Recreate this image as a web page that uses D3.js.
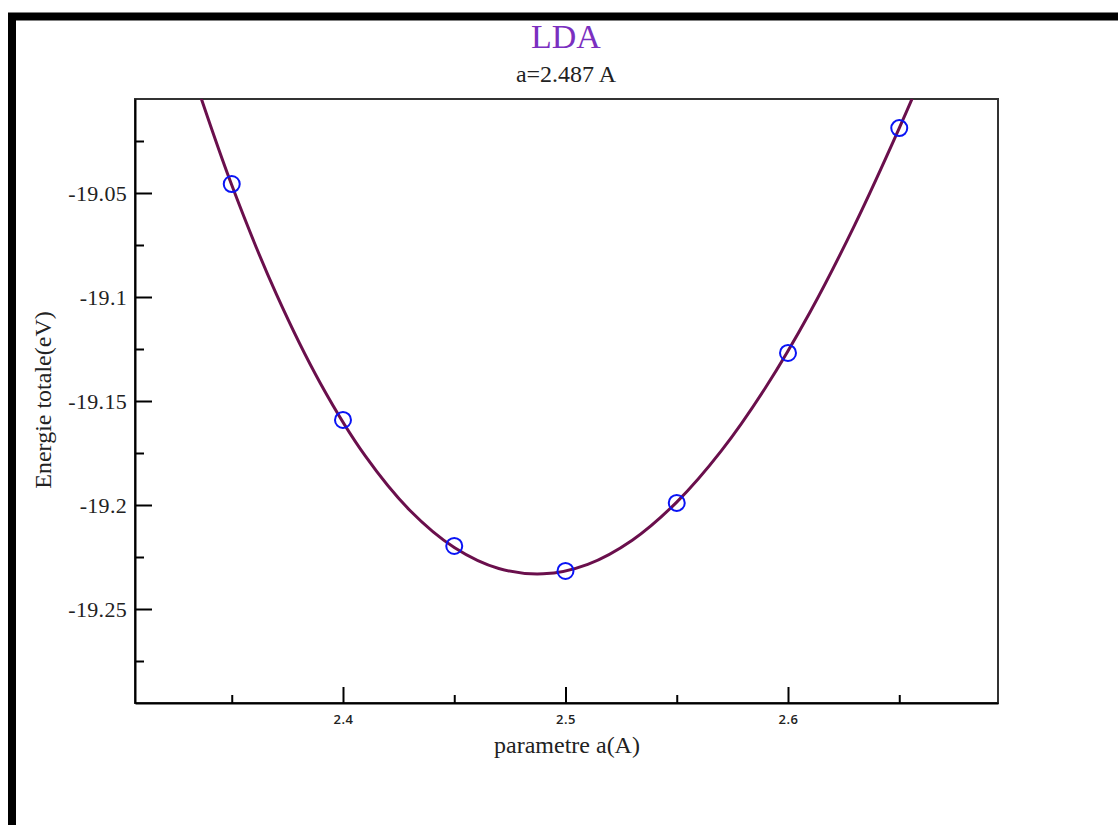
<!DOCTYPE html>
<html>
<head>
<meta charset="utf-8">
<script src="https://cdn.jsdelivr.net/npm/d3@7"></script>
<style>
  html, body { margin: 0; padding: 0; background: #fff; overflow: hidden; }
  svg { display: block; }
</style>
</head>
<body>
<div id="container"><svg></svg></div>
<script>
let width = 1118;
let height = 825;

// points de calcul (a en A, energie en eV)
let a_pts = [2.35, 2.40, 2.45, 2.50, 2.55, 2.60, 2.65];
let e_pts = [-19.0457, -19.1591, -19.2197, -19.2317, -19.1990, -19.1269, -19.0188];

// courbe d'ajustement
let a_fit = [2.33, 2.35, 2.37, 2.39, 2.41, 2.43, 2.45, 2.47, 2.49, 2.51,
             2.53, 2.55, 2.57, 2.59, 2.61, 2.63, 2.65, 2.67];
let e_fit = [-18.9845, -19.0462, -19.0985, -19.1418, -19.1764, -19.2025, -19.2204, -19.2305, -19.2331, -19.2285,
             -19.2169, -19.1986, -19.1740, -19.1434, -19.1071, -19.0653, -19.0188, -18.9690];

let x_major = [2.4, 2.5, 2.6];
let x_minor = [2.35, 2.45, 2.55, 2.65];
let y_major = [-19.05, -19.1, -19.15, -19.2, -19.25];
let y_minor = [-19.025, -19.075, -19.125, -19.175, -19.225, -19.275];

let title = "LDA";
let subtitle = "a=2.487 A";
let x_label = "parametre a(A)";
let y_label = "Energie totale(eV)";

function draw_chart() {
    let svg = d3.select('#container').select('svg')
        .attr('width', width)
        .attr('height', height);

    // cadre noir de la fenetre
    svg.append("rect")
        .attr("x", 12).attr("y", 16.5)
        .attr("width", width + 20).attr("height", height + 20)
        .attr("fill", "none")
        .attr("stroke", "#000")
        .attr("stroke-width", 8);

    let left = 135, top = 99, right = 998, bottom = 703;

    let x = d3.scaleLinear().domain([2.30652, 2.69438]).range([left, right]);
    let y = d3.scaleLinear().domain([-19.29519, -19.00481]).range([bottom, top]);

    svg.append("defs").append("clipPath").attr("id", "clip")
        .append("rect")
        .attr("x", left).attr("y", top)
        .attr("width", right - left).attr("height", bottom - top);

    // bord du graphe
    svg.append("rect")
        .attr("x", left).attr("y", top)
        .attr("width", right - left).attr("height", bottom - top)
        .attr("fill", "none")
        .attr("stroke", "#333")
        .attr("stroke-width", 2);

    // axe y
    let yAxis = svg.append("g")
        .attr("transform", `translate(${left},0)`)
        .call(d3.axisLeft(y).tickValues(y_major).tickFormat(d => String(d))
            .tickSizeInner(-17).tickSizeOuter(0).tickPadding(8));
    yAxis.select(".domain").attr("stroke", "#000").attr("stroke-width", 2);
    yAxis.selectAll(".tick line").attr("stroke", "#000").attr("stroke-width", 2);
    yAxis.selectAll("text")
        .attr("font-family", "'Liberation Serif', 'Times New Roman', serif")
        .attr("font-size", 22)
        .attr("letter-spacing", 0.3)
        .attr("fill", "#222");

    svg.append("g")
        .attr("transform", `translate(${left},0)`)
        .call(d3.axisLeft(y).tickValues(y_minor).tickFormat("").tickSizeInner(-9).tickSizeOuter(0))
        .call(g => g.select(".domain").remove())
        .selectAll(".tick line").attr("stroke", "#000").attr("stroke-width", 2);

    // axe x
    let xAxis = svg.append("g")
        .attr("transform", `translate(0,${bottom})`)
        .call(d3.axisBottom(x).tickValues(x_major).tickFormat(d3.format(".1f"))
            .tickSizeInner(-16).tickSizeOuter(0).tickPadding(12));
    xAxis.select(".domain").attr("stroke", "#000").attr("stroke-width", 2);
    xAxis.selectAll(".tick line").attr("stroke", "#000").attr("stroke-width", 2);
    xAxis.selectAll("text")
        .attr("font-family", "'Open Sans', 'DejaVu Sans', sans-serif")
        .attr("font-size", 13)
        .attr("font-weight", 600)
        .attr("letter-spacing", 0.5)
        .attr("fill", "#222");

    svg.append("g")
        .attr("transform", `translate(0,${bottom})`)
        .call(d3.axisBottom(x).tickValues(x_minor).tickFormat("").tickSizeInner(-8).tickSizeOuter(0))
        .call(g => g.select(".domain").remove())
        .selectAll(".tick line").attr("stroke", "#000").attr("stroke-width", 2);

    // courbe d'ajustement
    let fit = a_fit.map((a, i) => ({a: a, e: e_fit[i]}));
    let line = d3.line()
        .x(d => x(d.a))
        .y(d => y(d.e))
        .curve(d3.curveCatmullRom);
    svg.append("path")
        .datum(fit)
        .attr("clip-path", "url(#clip)")
        .attr("d", line)
        .attr("fill", "none")
        .attr("stroke", "#6a0f4c")
        .attr("stroke-width", 3);

    // points
    let pts = a_pts.map((a, i) => ({a: a, e: e_pts[i]}));
    svg.append("g")
        .selectAll("circle")
        .data(pts)
        .join("circle")
        .attr("cx", d => x(d.a))
        .attr("cy", d => y(d.e))
        .attr("r", 8)
        .attr("fill", "none")
        .attr("stroke", "#0a14f5")
        .attr("stroke-width", 2);

    // titres
    svg.append("text")
        .attr("x", 566).attr("y", 48)
        .attr("text-anchor", "middle")
        .attr("font-family", "'Liberation Serif', 'Times New Roman', serif")
        .attr("font-size", 34)
        .attr("fill", "#7b2fc0")
        .text(title);
    svg.append("text")
        .attr("x", 566).attr("y", 82)
        .attr("text-anchor", "middle")
        .attr("font-family", "'Liberation Serif', 'Times New Roman', serif")
        .attr("font-size", 24)
        .attr("fill", "#222")
        .text(subtitle);

    svg.append("text")
        .attr("x", 567).attr("y", 753)
        .attr("text-anchor", "middle")
        .attr("font-family", "'Liberation Serif', 'Times New Roman', serif")
        .attr("font-size", 24)
        .attr("fill", "#222")
        .text(x_label);
    svg.append("text")
        .attr("transform", "translate(51,400) rotate(-90)")
        .attr("text-anchor", "middle")
        .attr("font-family", "'Liberation Serif', 'Times New Roman', serif")
        .attr("font-size", 24)
        .attr("fill", "#222")
        .text(y_label);
}

draw_chart();
</script>
</body>
</html>
